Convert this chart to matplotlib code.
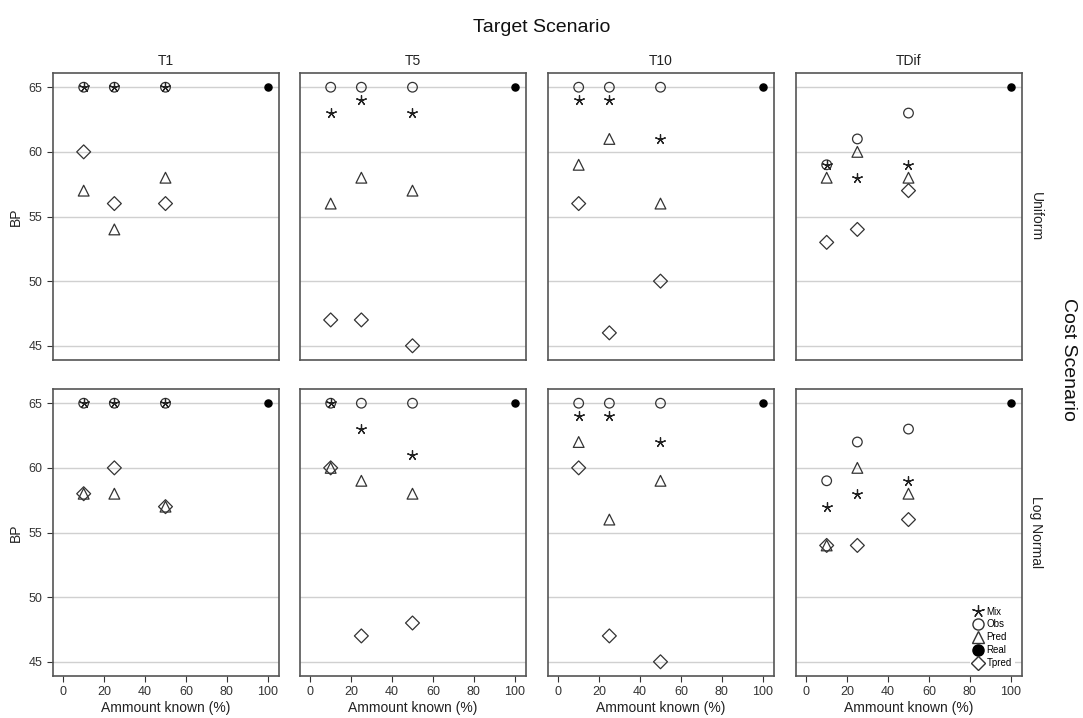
import numpy as np
import matplotlib.pyplot as plt
from matplotlib.lines import Line2D

plt.rcParams["font.family"] = ["Liberation Sans", "DejaVu Sans"]

# facets
targets = ["T1", "T5", "T10", "TDif"]
costs = ["Uniform", "Log Normal"]
known = [10, 25, 50]  # percent known
real_x = 100
real_bp = 65

# BP values per [cost][target] -> list for known = 10, 25, 50
mix = {
    "Uniform":    {"T1": [65, 65, 65], "T5": [63, 64, 63], "T10": [64, 64, 61], "TDif": [59, 58, 59]},
    "Log Normal": {"T1": [65, 65, 65], "T5": [65, 63, 61], "T10": [64, 64, 62], "TDif": [57, 58, 59]},
}
obs = {
    "Uniform":    {"T1": [65, 65, 65], "T5": [65, 65, 65], "T10": [65, 65, 65], "TDif": [59, 61, 63]},
    "Log Normal": {"T1": [65, 65, 65], "T5": [65, 65, 65], "T10": [65, 65, 65], "TDif": [59, 62, 63]},
}
pred = {
    "Uniform":    {"T1": [57, 54, 58], "T5": [56, 58, 57], "T10": [59, 61, 56], "TDif": [58, 60, 58]},
    "Log Normal": {"T1": [58, 58, 57], "T5": [60, 59, 58], "T10": [62, 56, 59], "TDif": [54, 60, 58]},
}
tpred = {
    "Uniform":    {"T1": [60, 56, 56], "T5": [47, 47, 45], "T10": [56, 46, 50], "TDif": [53, 54, 57]},
    "Log Normal": {"T1": [58, 60, 57], "T5": [60, 47, 48], "T10": [60, 47, 45], "TDif": [54, 54, 56]},
}

ec = "#333333"
star = (5, 2, 0)  # thin 5-arm asterisk

fig = plt.figure(figsize=(10.83, 7.18), dpi=100)

lefts = [53, 300, 548, 796]
tops = [73, 389]
w, h = 226, 287
W, H = 1083, 718

axes = {}
for r, cost in enumerate(costs):
    for c, tg in enumerate(targets):
        ax = fig.add_axes([lefts[c] / W, 1 - (tops[r] + h) / H, w / W, h / H])
        axes[(r, c)] = ax
        for y in [45, 50, 55, 60, 65]:
            ax.axhline(y, color="#d0d0d0", lw=1.0, zorder=0)
        ax.scatter(known, tpred[cost][tg], marker="D", s=50, facecolors="none",
                   edgecolors=ec, linewidths=0.9, zorder=3)
        ax.scatter(known, pred[cost][tg], marker="^", s=60, facecolors="none",
                   edgecolors=ec, linewidths=0.9, zorder=3)
        ax.scatter(known, obs[cost][tg], marker="o", s=48, facecolors="none",
                   edgecolors=ec, linewidths=0.9, zorder=3)
        ax.scatter(known, mix[cost][tg], marker=star, s=50, color="#222222",
                   linewidths=0.9, zorder=4)
        ax.scatter([real_x], [real_bp], marker="o", s=26, color="black", zorder=4)

        ax.set_xlim(-5, 105.5)
        ax.set_ylim(43.9, 66.1)
        for sp in ax.spines.values():
            sp.set_color("#555555")
            sp.set_linewidth(1.2)
        ax.tick_params(colors="#333333", labelsize=9, length=4, width=0.8)
        ax.set_yticks([45, 50, 55, 60, 65])
        ax.set_xticks([0, 20, 40, 60, 80, 100])
        if c > 0:
            ax.tick_params(axis="y", left=False, labelleft=False)
        else:
            ax.set_ylabel("BP", fontsize=10, color="#222222")
        if r == 0:
            ax.tick_params(axis="x", bottom=False, labelbottom=False)
            ax.set_title(tg, fontsize=10, color="#222222", pad=6)
        else:
            ax.set_xlabel("Ammount known (%)", fontsize=10, color="#222222", labelpad=2)
        if c == 3:
            ax.text(1.06, 0.5, cost, transform=ax.transAxes, rotation=-90,
                    ha="center", va="center", fontsize=10, color="#222222")

fig.text(0.5, 1 - 28 / H, "Target Scenario", ha="center", va="center", fontsize=14, color="#111111")
fig.text(1068 / W, 0.5, "Cost Scenario", ha="center", va="center", rotation=-90,
         fontsize=14, color="#111111")

handles = [
    Line2D([], [], marker=star, color="#222222", ls="none", markersize=9, markeredgewidth=0.9),
    Line2D([], [], marker="o", ls="none", markerfacecolor="none", markeredgecolor=ec, markersize=8),
    Line2D([], [], marker="^", ls="none", markerfacecolor="none", markeredgecolor=ec, markersize=8),
    Line2D([], [], marker="o", ls="none", color="black", markersize=8),
    Line2D([], [], marker="D", ls="none", markerfacecolor="none", markeredgecolor=ec, markersize=7),
]
leg = axes[(1, 3)].legend(handles, ["Mix", "Obs", "Pred", "Real", "Tpred"], loc="lower right",
                          bbox_to_anchor=(0.99, 0.0), fontsize=7, frameon=True, framealpha=1,
                          edgecolor="none", handletextpad=0.4, labelspacing=0.3, borderpad=0.3,
                          handlelength=1.0, borderaxespad=0.5)
leg.set_zorder(10)

fig.savefig("out.png", dpi=100)
